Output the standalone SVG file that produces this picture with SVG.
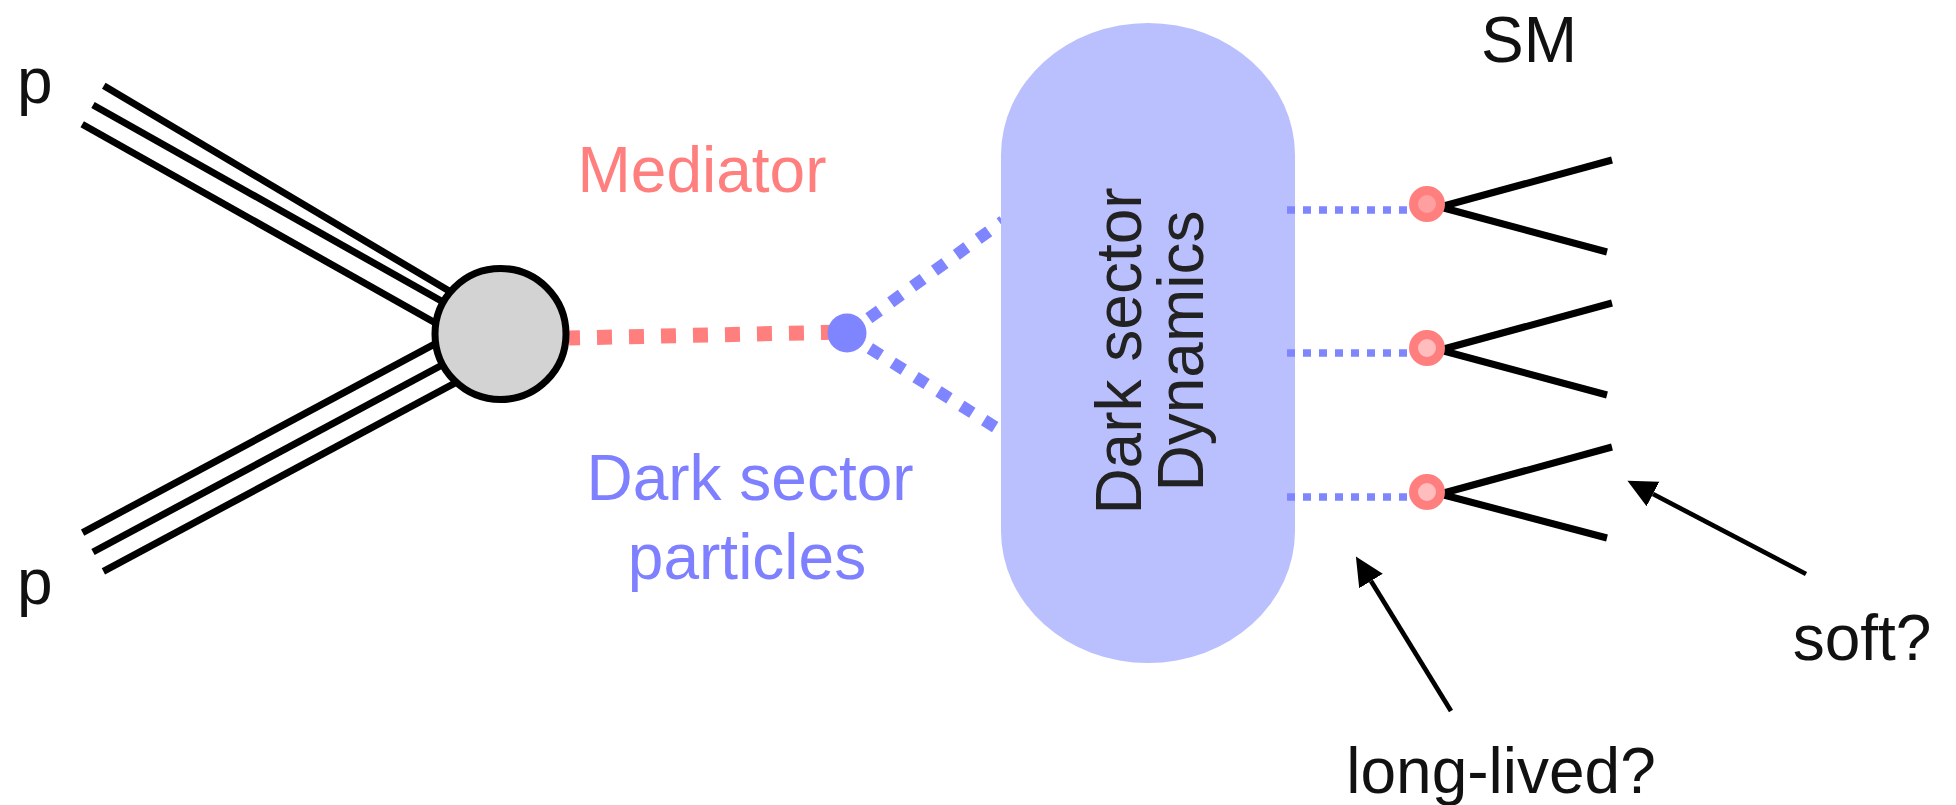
<svg xmlns="http://www.w3.org/2000/svg" width="1956" height="805" viewBox="0 0 1956 805">
  <style>
    .lbl { font-family: "Liberation Sans", Arial, sans-serif; font-size: 64px; }
    .blk { fill: #111; }
    .red { fill: #FF7F7F; }
    .blu { fill: #7F80FF; }
    .beam { stroke: #000; stroke-width: 7; fill: none; }
    .jet { stroke: #000; stroke-width: 7; fill: none; }
    .ptr { stroke: #000; stroke-width: 4.7; fill: none; marker-end: url(#head); }
    .dsdot { stroke: #7F85FF; stroke-width: 7.5; stroke-dasharray: 8 8; fill: none; }
    .dsdiag { stroke: #7F85FF; stroke-width: 12; stroke-dasharray: 13 14; fill: none; }
    .med { stroke: #FF7F7F; stroke-width: 15; stroke-dasharray: 15 17; stroke-dashoffset: 4; fill: none; }
    .vtx { stroke: #FF7F7F; stroke-width: 9; }
  </style>
  <defs>
    <marker id="head" markerUnits="userSpaceOnUse" markerWidth="30" markerHeight="30" refX="0" refY="12" orient="auto" viewBox="0 0 26 24">
      <path d="M0,0 L25,12 L0,24 z" fill="#000"/>
    </marker>
  </defs>
  <rect width="1956" height="805" fill="#fff"/>

  <!-- incoming proton beams -->
  <g id="proton-top">
    <line class="beam" x1="103.8" y1="85.8" x2="489.2" y2="314.8"/>
    <line class="beam" x1="93" y1="105" x2="500" y2="334"/>
    <line class="beam" x1="82.2" y1="124.2" x2="489.2" y2="353.2"/>
    <text class="lbl blk" x="17" y="103">p</text>
  </g>
  <g id="proton-bottom">
    <line class="beam" x1="82.6" y1="532.6" x2="489.6" y2="314.6"/>
    <line class="beam" x1="93" y1="552" x2="500" y2="334"/>
    <line class="beam" x1="103.4" y1="571.4" x2="510.4" y2="353.4"/>
    <text class="lbl blk" x="17" y="604">p</text>
  </g>

  <!-- connectors -->
  <g id="connectors">
    <line class="med" x1="569" y1="338" x2="847" y2="332"/>
    <line class="dsdiag" x1="847" y1="334" x2="1003" y2="221"/>
    <line class="dsdiag" x1="847" y1="334" x2="1003" y2="432"/>
  </g>

  <!-- hard interaction blob -->
  <g id="interaction">
    <circle cx="500.5" cy="334" r="65.5" fill="#D3D3D3" stroke="#000" stroke-width="7"/>
  </g>

  <!-- mediator decay vertex -->
  <g id="mediator-vertex">
    <circle cx="847" cy="333" r="19.5" fill="#7F85FF"/>
  </g>

  <g id="label-mediator">
    <text class="lbl red" x="702" y="192" text-anchor="middle">Mediator</text>
  </g>
  <g id="label-particles">
    <text class="lbl blu" x="750" y="500" text-anchor="middle">Dark sector</text>
    <text class="lbl blu" x="747" y="579" text-anchor="middle">particles</text>
  </g>

  <!-- dark sector dynamics -->
  <g id="dark-sector">
    <rect x="1001" y="23" width="294" height="640" rx="147" ry="132" fill="#BABFFD"/>
    <text class="lbl" fill="#222" font-size="66" text-anchor="middle" transform="translate(0,351) rotate(-90)" x="0" y="1141">Dark sector</text>
    <text class="lbl" fill="#222" font-size="66" text-anchor="middle" transform="translate(0,351) rotate(-90)" x="0" y="1203">Dynamics</text>
  </g>

  <!-- outgoing dark hadrons decaying to SM pairs -->
  <g id="decay-1">
    <line class="dsdot" x1="1287" y1="210" x2="1410" y2="210"/>
    <line class="jet" x1="1440" y1="207" x2="1612" y2="160"/>
    <line class="jet" x1="1440" y1="207" x2="1607" y2="252"/>
    <circle class="vtx" cx="1427" cy="204" r="13.5" fill="#FF9F9F"/>
  </g>
  <g id="decay-2">
    <line class="dsdot" x1="1287" y1="353" x2="1410" y2="353"/>
    <line class="jet" x1="1440" y1="350" x2="1612" y2="303"/>
    <line class="jet" x1="1440" y1="350" x2="1607" y2="395"/>
    <circle class="vtx" cx="1427" cy="348" r="13.5" fill="#FFBDBD"/>
  </g>
  <g id="decay-3">
    <line class="dsdot" x1="1287" y1="497" x2="1410" y2="497"/>
    <line class="jet" x1="1440" y1="494" x2="1612" y2="447"/>
    <line class="jet" x1="1440" y1="494" x2="1607" y2="538"/>
    <circle class="vtx" cx="1427" cy="492" r="13.5" fill="#FFBDBD"/>
  </g>

  <g id="label-sm">
    <text class="lbl blk" x="1529" y="62" text-anchor="middle">SM</text>
  </g>

  <!-- annotations -->
  <g id="note-long-lived">
    <line class="ptr" x1="1451" y1="711" x2="1371" y2="581"/>
    <text class="lbl blk" x="1501" y="793" text-anchor="middle">long-lived?</text>
  </g>
  <g id="note-soft">
    <line class="ptr" x1="1806" y1="574" x2="1653" y2="494"/>
    <text class="lbl blk" x="1862" y="660" text-anchor="middle">soft?</text>
  </g>
</svg>
